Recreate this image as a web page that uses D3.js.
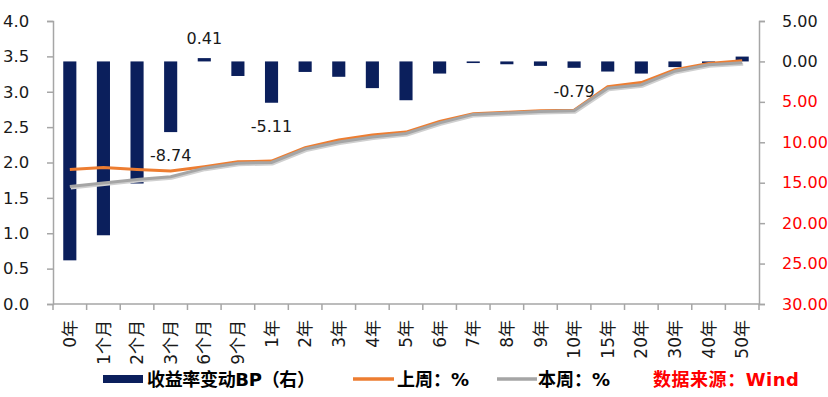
<!DOCTYPE html>
<html>
<head>
<meta charset="utf-8">
<script src="https://cdn.jsdelivr.net/npm/d3@7"></script>
<style>
  body { margin: 0; background: #fff; }
  text { font-family: "DejaVu Sans", "Noto Sans CJK SC", sans-serif; }
</style>
</head>
<body>
<div id="chart"></div>
<script>
// data
var terms = ["0年", "1个月", "2个月", "3个月", "6个月", "9个月", "1年", "2年", "3年", "4年", "5年",
             "6年", "7年", "8年", "9年", "10年", "15年", "20年", "30年", "40年", "50年"];
var changeBP = [-24.6, -21.5, -15.1, -8.74, 0.41, -1.8, -5.11, -1.3, -1.9, -3.3, -4.8,
                -1.5, -0.2, -0.35, -0.55, -0.79, -1.25, -1.5, -0.7, -0.2, 0.6];
var lastWeek = [1.90, 1.93, 1.90, 1.88, 1.94, 2.01, 2.02, 2.21, 2.32, 2.39, 2.43,
                2.58, 2.69, 2.71, 2.73, 2.74, 3.07, 3.13, 3.31, 3.40, 3.44];
var thisWeek = [1.66, 1.71, 1.76, 1.80, 1.92, 1.99, 2.00, 2.19, 2.29, 2.36, 2.41,
                2.56, 2.68, 2.70, 2.72, 2.73, 3.05, 3.10, 3.29, 3.38, 3.41];
var labelled = ["3个月", "6个月", "1年", "10年"];
var leftTicks = [0, 0.5, 1, 1.5, 2, 2.5, 3, 3.5, 4];
var rightTicks = [5, 0, -5, -10, -15, -20, -25, -30];

var margin = {top: 21, right: 69, bottom: 93, left: 53};
var W = 828, H = 397;
var width = W - margin.left - margin.right;
var height = H - margin.top - margin.bottom;

var navy = "#0b1f5c", orange = "#ed7d31", gray = "#a5a5a5", axisCol = "#a6a6a6";

var svg = d3.select("#chart").append("svg")
    .attr("width", W).attr("height", H);
var g = svg.append("g").attr("transform", "translate(" + margin.left + "," + margin.top + ")");

var x = d3.scaleBand().domain(terms).range([0, width]).padding(0);
var yL = d3.scaleLinear().domain([0, 4]).range([height, 0]);
var yR = d3.scaleLinear().domain([-30, 5]).range([height, 0]);

// bars (right axis)
var bw = x.bandwidth() * 0.39;
g.selectAll(".bar")
    .data(changeBP)
    .enter().append("rect")
    .attr("class", "bar")
    .attr("x", function(d, i){ return x(terms[i]) + (x.bandwidth() - bw) / 2; })
    .attr("y", function(d){ return yR(Math.max(0, d)); })
    .attr("width", bw)
    .attr("height", function(d){ return Math.max(1.5, Math.abs(yR(d) - yR(0))); })
    .attr("fill", navy);

// value labels
g.selectAll(".vlab")
    .data(changeBP.map(function(d, i){ return {t: terms[i], v: d}; })
        .filter(function(d){ return labelled.indexOf(d.t) >= 0; }))
    .enter().append("text")
    .attr("class", "vlab")
    .attr("x", function(d){ return x(d.t) + x.bandwidth() / 2; })
    .attr("y", function(d){ return d.v >= 0 ? yR(d.v) - 20 : yR(d.v) + 23; })
    .attr("dy", "0.36em")
    .attr("text-anchor", "middle")
    .attr("font-size", 16)
    .attr("fill", "#1a1a1a")
    .text(function(d){ return d.v.toFixed(2); });

// lines (left axis)
var line = d3.line()
    .x(function(d, i){ return x(terms[i]) + x.bandwidth() / 2; })
    .y(function(d){ return yL(d); });

g.append("path").datum(lastWeek)
    .attr("d", line).attr("fill", "none")
    .attr("stroke", orange).attr("stroke-width", 3);
g.append("path").datum(thisWeek)
    .attr("d", line).attr("fill", "none")
    .attr("stroke", "#d0d0d0").attr("stroke-width", 3)
    .attr("transform", "translate(1,1.5)");
g.append("path").datum(thisWeek)
    .attr("d", line).attr("fill", "none")
    .attr("stroke", gray).attr("stroke-width", 3);

// left axis
var axL = g.append("g").call(d3.axisLeft(yL).tickValues(leftTicks).tickSize(6).tickPadding(22)
    .tickFormat(d3.format(".1f")));
axL.select(".domain").attr("stroke", axisCol).attr("stroke-width", 1.5);
axL.selectAll(".tick line").attr("stroke", axisCol).attr("stroke-width", 1.5);
axL.selectAll("text").attr("font-size", 16.5).attr("fill", "#1a1a1a")
    .attr("font-family", "DejaVu Sans").attr("text-anchor", "start")
    .attr("x", -50);

// right axis
var axR = g.append("g").attr("transform", "translate(" + width + ",0)")
    .call(d3.axisRight(yR).tickValues(rightTicks).tickSize(6).tickPadding(17)
    .tickFormat(function(d){ return Math.abs(d).toFixed(2); }));
axR.select(".domain").attr("stroke", axisCol).attr("stroke-width", 1.5);
axR.selectAll(".tick line").attr("stroke", axisCol).attr("stroke-width", 1.5);
axR.selectAll("text").attr("font-size", 16).attr("font-family", "DejaVu Sans")
    .attr("fill", function(d){ return d < 0 ? "#ff0000" : "#1a1a1a"; });

// bottom axis, ticks between categories
var xb = g.append("g").attr("transform", "translate(0," + height + ")");
xb.append("line").attr("x1", 0).attr("x2", width).attr("stroke", axisCol).attr("stroke-width", 1.5);
xb.selectAll(".bt")
    .data(terms.concat(["end"]))
    .enter().append("line")
    .attr("x1", function(d, i){ return i * x.step(); })
    .attr("x2", function(d, i){ return i * x.step(); })
    .attr("y1", 0).attr("y2", 6)
    .attr("stroke", axisCol).attr("stroke-width", 1.5);
xb.selectAll(".xl")
    .data(terms)
    .enter().append("text")
    .attr("transform", function(d){ return "translate(" + (x(d) + x.bandwidth() / 2) + ",16) rotate(-90)"; })
    .attr("text-anchor", "end")
    .attr("dy", "0.36em")
    .attr("font-size", 17)
    .attr("fill", "#1a1a1a")
    .text(function(d){ return d; });

// legend
var lg = svg.append("g").attr("font-weight", "bold").attr("font-size", 18);
lg.append("rect").attr("x", 103).attr("y", 375).attr("width", 40).attr("height", 8).attr("fill", navy);
lg.append("text").attr("x", 147).attr("y", 386).attr("fill", "#000")
    .attr("textLength", 168).text("收益率变动BP（右）");
lg.append("line").attr("x1", 353).attr("x2", 394).attr("y1", 379).attr("y2", 379)
    .attr("stroke", orange).attr("stroke-width", 3.5);
lg.append("text").attr("x", 397).attr("y", 386).attr("fill", "#000").text("上周：%");
lg.append("line").attr("x1", 497).attr("x2", 537).attr("y1", 379).attr("y2", 379)
    .attr("stroke", gray).attr("stroke-width", 3.5);
lg.append("text").attr("x", 538).attr("y", 386).attr("fill", "#000").text("本周：%");
lg.append("text").attr("x", 653).attr("y", 386).attr("fill", "#ff0000")
    .attr("textLength", 146).text("数据来源：Wind");
</script>
</body>
</html>
